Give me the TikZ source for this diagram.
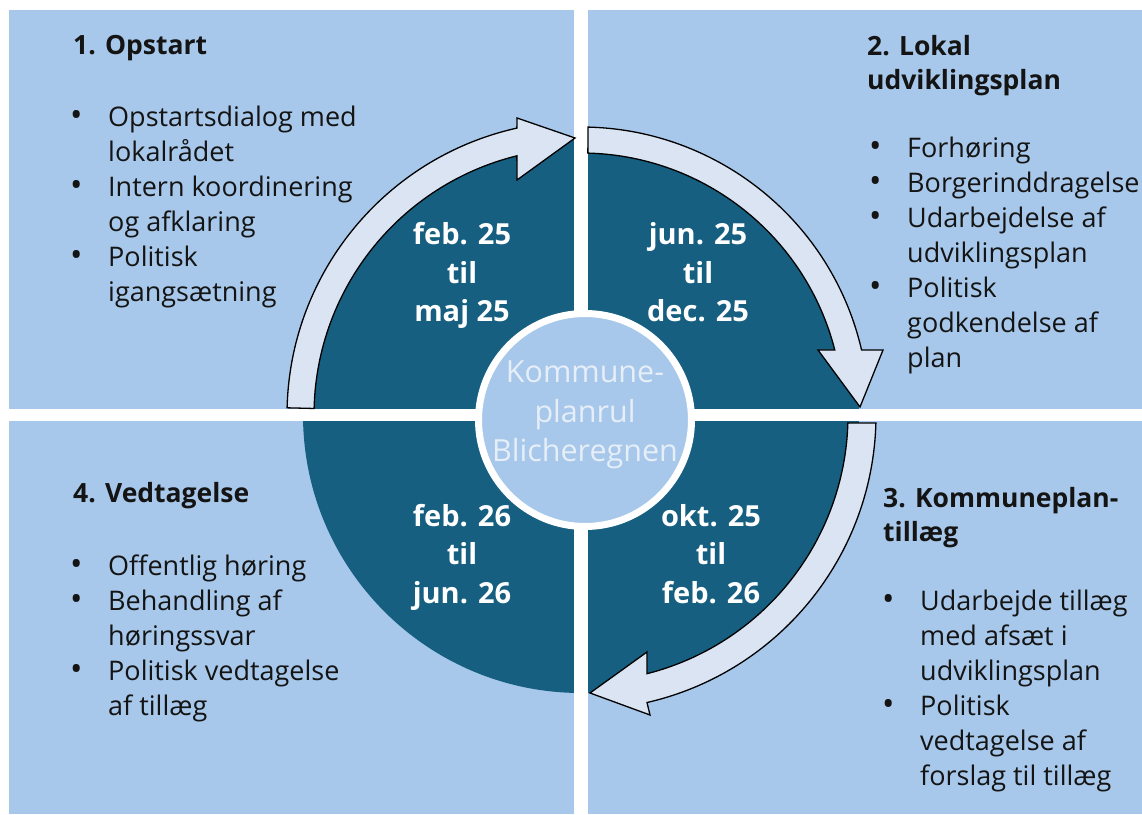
\documentclass[tikz,border=0pt]{standalone}
\usepackage{fontspec}
\setmainfont{Open Sans}
\usetikzlibrary{calc}
\definecolor{quad}{HTML}{A7C8EA}
\definecolor{darkc}{HTML}{165F80}
\definecolor{arrowfill}{HTML}{DAE4F3}
\definecolor{txt}{HTML}{141414}
\definecolor{ctxt}{HTML}{E6EEF8}
\newcommand\qbul{\makebox[38pt][l]{\fontsize{33}{35}\selectfont•}}
\newcommand\qind{\hspace*{38pt}}
\begin{document}
\begin{tikzpicture}[x=1pt,y=1pt,
  quadrant/.style={fill=quad, draw=none},
  cyclearrow/.style={fill=arrowfill, draw=black, line width=1.3pt, line join=miter},
  qtitle/.style={anchor=base west, inner sep=0pt, align=left, text=txt, font=\fontsize{26.5}{34}\selectfont\bfseries},
  qitems/.style={anchor=base west, inner sep=0pt, align=left, text=txt, font=\fontsize{27}{35}\selectfont},
  period/.style={anchor=base, inner sep=0pt, align=center, text=white, font=\fontsize{29}{38.5}\selectfont\bfseries},
  hubtext/.style={anchor=base, inner sep=0pt, align=center, text=ctxt, font=\fontsize{30.5}{39.5}\selectfont},
]
\useasboundingbox (0,0) rectangle (1142,814);
\fill[white] (0,0) rectangle (1142,814);
% quadrants
\fill[quadrant] (9,405) rectangle (574,804);
\fill[quadrant] (588,405) rectangle (1142,804);
\fill[quadrant] (9,0) rectangle (574,393);
\fill[quadrant] (588,0) rectangle (1142,393);
% dark disc
\coordinate (C) at (581,399);
\fill[darkc] (C) circle[radius=278];
\fill[white] (574,110) rectangle (588,690);
\fill[white] (290,393) rectangle (870,405);
% cycle arrows
\draw[cyclearrow] ($(C)+(178.6:294)$) arc[start angle=178.6,end angle=102.6,radius=294]
  -- (517,696) -- (575,676) -- (517,634)
  -- ($(C)+(103.9:267)$) arc[start angle=103.9,end angle=178.6,radius=267] -- cycle;
\draw[cyclearrow] ($(C)+(88.6:288)$) arc[start angle=88.6,end angle=13.04,radius=288]
  -- (883,464) -- (860,407) -- (818,464)
  -- ($(C)+(14.37:262)$) arc[start angle=14.37,end angle=88.5,radius=262] -- cycle;
\draw[cyclearrow] ($(C)+(-1.55:295)$) arc[start angle=-1.55,end angle=-77.07,radius=295]
  -- (650,99) -- (590,121) -- (647,162)
  -- ($(C)+(-75.69:267)$) arc[start angle=-75.69,end angle=-1.7,radius=267] -- cycle;
% hub
\node[circle, fill=quad, draw=white, line width=7pt, minimum size=213pt, inner sep=0pt] (hub) at (585,394) {};
\node[hubtext] (hubt) at (585,352) {Kommune-\\planrul\\Blicheregnen};
% periods
\node[period] (p1) at (462,492) {feb. 25\\til\\maj 25};
\node[period] (p2) at (698,492) {jun. 25\\til\\dec. 25};
\node[period] (p3) at (711,211) {okt. 25\\til\\feb. 26};
\node[period] (p4) at (462,211) {feb. 26\\til\\jun. 26};
% quadrant texts
\node[qtitle] (t1) at (73,759) {1. Opstart};
\node[qitems] (i1) at (70,512) {\qbul Opstartsdialog med\\ \qind lokalrådet\\ \qbul Intern koordinering\\ \qind og afklaring\\ \qbul Politisk\\ \qind igangsætning};
\node[qtitle] (t2) at (867,724) {2. Lokal\\udviklingsplan};
\node[qitems] (i2) at (869,446) {\qbul Forhøring\\ \qbul Borgerinddragelse\\ \qbul Udarbejdelse af\\ \qind udviklingsplan\\ \qbul Politisk\\ \qind godkendelse af\\ \qind plan};
\node[qtitle] (t3) at (883,272) {3. Kommuneplan-\\tillæg};
\node[qitems] (i3) at (882,29) {\qbul Udarbejde tillæg\\ \qind med afsæt i\\ \qind udviklingsplan\\ \qbul Politisk\\ \qind vedtagelse af\\ \qind forslag til tillæg};
\node[qtitle] (t4) at (73,311) {4. Vedtagelse};
\node[qitems] (i4) at (70,99) {\qbul Offentlig høring\\ \qbul Behandling af\\ \qind høringssvar\\ \qbul Politisk vedtagelse\\ \qind af tillæg};
\end{tikzpicture}
\end{document}
